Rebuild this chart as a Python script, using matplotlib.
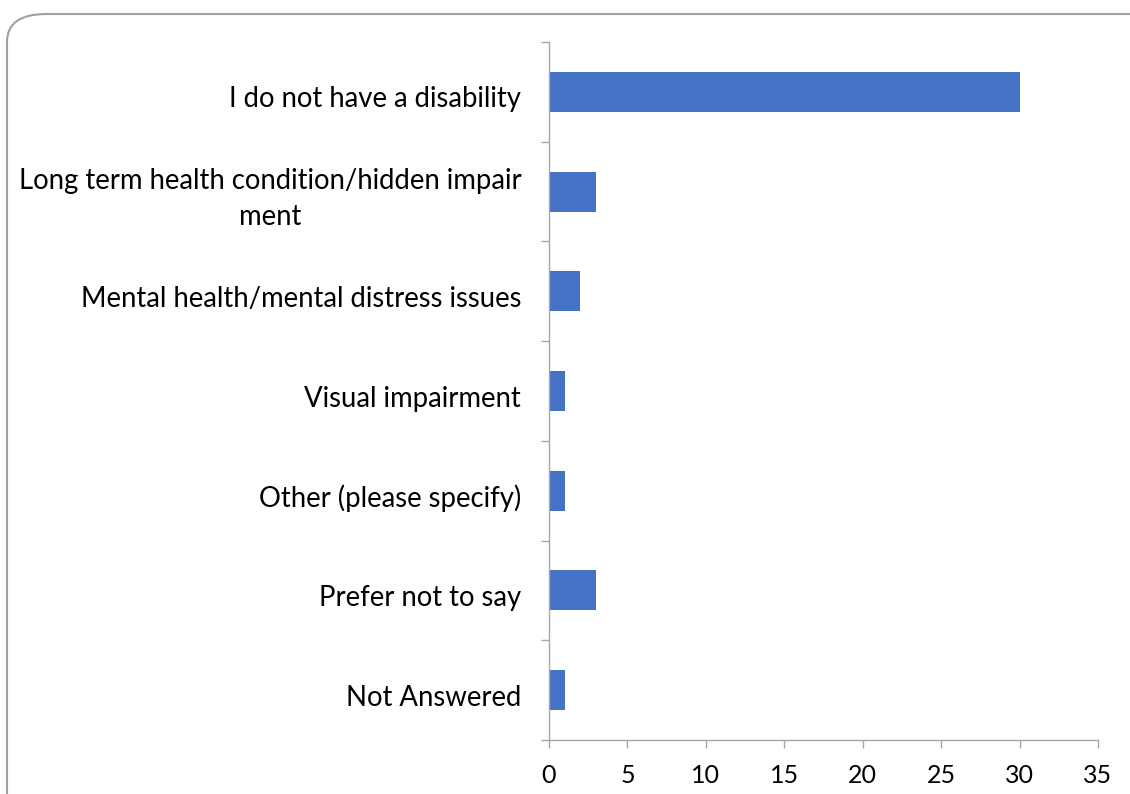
import matplotlib.pyplot as plt
import matplotlib.transforms as mtransforms
from matplotlib.patches import FancyBboxPatch
from matplotlib.ticker import FixedLocator

categories = ['I do not have a disability',
              'Long term health condition/hidden impair\nment',
              'Mental health/mental distress issues',
              'Visual impairment',
              'Other (please specify)',
              'Prefer not to say',
              'Not Answered']
counts = [30, 3, 2, 1, 1, 3, 1]
xticks = [0, 5, 10, 15, 20, 25, 30, 35]

plt.rcParams['font.family'] = ['Lato', 'DejaVu Sans']
bar_color = '#4472C4'
axis_color = '#A6A6A6'

fig = plt.figure(figsize=(11.3, 7.94), dpi=100)
ax = fig.add_axes([549/1130, 1 - 740/794, (1098 - 549)/1130, (740 - 42)/794])

pos = list(range(len(categories)))[::-1]
ax.barh(pos, counts, height=0.4, color=bar_color)

ax.set_xlim(0, 35)
ax.set_ylim(-0.5, len(categories) - 0.5)
ax.set_xticks(xticks)
ax.set_xticklabels([str(t) for t in xticks], fontsize=18)
ax.set_yticks(pos)
ax.set_yticklabels(categories, fontsize=19.8, ha='right',
                   multialignment='center', linespacing=1.45)
ax.yaxis.set_minor_locator(FixedLocator([i - 0.5 for i in range(len(categories) + 1)]))

ax.tick_params(axis='y', which='major', length=0, pad=20)
ax.tick_params(axis='y', which='minor', length=6, width=1, color=axis_color)
ax.tick_params(axis='x', length=6, width=1, color=axis_color, pad=11)

# single-line labels sit a little below the bar centre in the original
shift = mtransforms.ScaledTranslation(0, -5/100, fig.dpi_scale_trans)
for lbl in ax.get_yticklabels():
    if '\n' not in lbl.get_text():
        lbl.set_transform(lbl.get_transform() + shift)

for s in ['top', 'right']:
    ax.spines[s].set_visible(False)
for s in ['left', 'bottom']:
    ax.spines[s].set_color(axis_color)
    ax.spines[s].set_linewidth(1)

# rounded frame around the chart
frame = FancyBboxPatch((7/1130, -0.05), 1.05, 1 - 14/794 + 0.05,
                       boxstyle='round,pad=0,rounding_size=0.035',
                       transform=fig.transFigure, fill=False,
                       edgecolor='#A0A0A0', linewidth=1.5, clip_on=False)
fig.patches.append(frame)

plt.savefig('out.png', dpi=100)
